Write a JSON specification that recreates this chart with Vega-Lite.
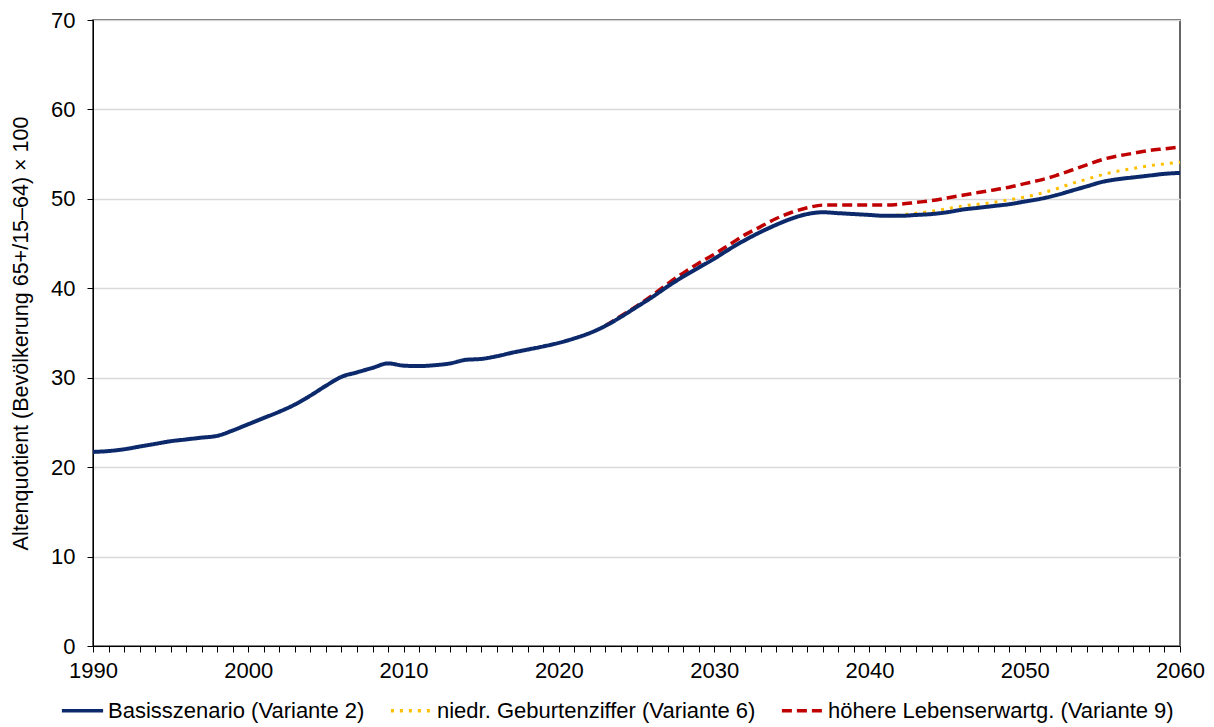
{
  "$schema": "https://vega.github.io/schema/vega-lite/v6.json",
  "width": 1087,
  "height": 626,
  "autosize": {"type": "none"},
  "padding": {"left": 93, "top": 20, "right": 34, "bottom": 81},
  "background": "white",
  "config": {
    "font": "Liberation Sans",
    "view": {"stroke": "#333333", "strokeWidth": 1.5},
    "axis": {"labelFont": "Liberation Sans", "titleFont": "Liberation Sans", "labelColor": "#000000", "titleColor": "#000000", "domainColor": "#000000", "tickColor": "#000000"}
  },
  "datasets": {
    "d": [
      {"year": 1990, "s": "Basisszenario (Variante 2)", "v": 21.7},
      {"year": 1991, "s": "Basisszenario (Variante 2)", "v": 21.8},
      {"year": 1992, "s": "Basisszenario (Variante 2)", "v": 22.0},
      {"year": 1993, "s": "Basisszenario (Variante 2)", "v": 22.3},
      {"year": 1994, "s": "Basisszenario (Variante 2)", "v": 22.6},
      {"year": 1995, "s": "Basisszenario (Variante 2)", "v": 22.9},
      {"year": 1996, "s": "Basisszenario (Variante 2)", "v": 23.1},
      {"year": 1997, "s": "Basisszenario (Variante 2)", "v": 23.3},
      {"year": 1998, "s": "Basisszenario (Variante 2)", "v": 23.5},
      {"year": 1999, "s": "Basisszenario (Variante 2)", "v": 24.1},
      {"year": 2000, "s": "Basisszenario (Variante 2)", "v": 24.8},
      {"year": 2001, "s": "Basisszenario (Variante 2)", "v": 25.5},
      {"year": 2002, "s": "Basisszenario (Variante 2)", "v": 26.2},
      {"year": 2003, "s": "Basisszenario (Variante 2)", "v": 27.0},
      {"year": 2004, "s": "Basisszenario (Variante 2)", "v": 28.0},
      {"year": 2005, "s": "Basisszenario (Variante 2)", "v": 29.1},
      {"year": 2006, "s": "Basisszenario (Variante 2)", "v": 30.1},
      {"year": 2007, "s": "Basisszenario (Variante 2)", "v": 30.6},
      {"year": 2008, "s": "Basisszenario (Variante 2)", "v": 31.1},
      {"year": 2009, "s": "Basisszenario (Variante 2)", "v": 31.6},
      {"year": 2010, "s": "Basisszenario (Variante 2)", "v": 31.35},
      {"year": 2011, "s": "Basisszenario (Variante 2)", "v": 31.3},
      {"year": 2012, "s": "Basisszenario (Variante 2)", "v": 31.4},
      {"year": 2013, "s": "Basisszenario (Variante 2)", "v": 31.6},
      {"year": 2014, "s": "Basisszenario (Variante 2)", "v": 32.0},
      {"year": 2015, "s": "Basisszenario (Variante 2)", "v": 32.1},
      {"year": 2016, "s": "Basisszenario (Variante 2)", "v": 32.4},
      {"year": 2017, "s": "Basisszenario (Variante 2)", "v": 32.8},
      {"year": 2018, "s": "Basisszenario (Variante 2)", "v": 33.15},
      {"year": 2019, "s": "Basisszenario (Variante 2)", "v": 33.5},
      {"year": 2020, "s": "Basisszenario (Variante 2)", "v": 33.9},
      {"year": 2021, "s": "Basisszenario (Variante 2)", "v": 34.4},
      {"year": 2022, "s": "Basisszenario (Variante 2)", "v": 35.0},
      {"year": 2023, "s": "Basisszenario (Variante 2)", "v": 35.8},
      {"year": 2024, "s": "Basisszenario (Variante 2)", "v": 36.8},
      {"year": 2025, "s": "Basisszenario (Variante 2)", "v": 37.9},
      {"year": 2026, "s": "Basisszenario (Variante 2)", "v": 39.0},
      {"year": 2027, "s": "Basisszenario (Variante 2)", "v": 40.2},
      {"year": 2028, "s": "Basisszenario (Variante 2)", "v": 41.3},
      {"year": 2029, "s": "Basisszenario (Variante 2)", "v": 42.3},
      {"year": 2030, "s": "Basisszenario (Variante 2)", "v": 43.3},
      {"year": 2031, "s": "Basisszenario (Variante 2)", "v": 44.4},
      {"year": 2032, "s": "Basisszenario (Variante 2)", "v": 45.4},
      {"year": 2033, "s": "Basisszenario (Variante 2)", "v": 46.3},
      {"year": 2034, "s": "Basisszenario (Variante 2)", "v": 47.1},
      {"year": 2035, "s": "Basisszenario (Variante 2)", "v": 47.8},
      {"year": 2036, "s": "Basisszenario (Variante 2)", "v": 48.3},
      {"year": 2037, "s": "Basisszenario (Variante 2)", "v": 48.5},
      {"year": 2038, "s": "Basisszenario (Variante 2)", "v": 48.4},
      {"year": 2039, "s": "Basisszenario (Variante 2)", "v": 48.3},
      {"year": 2040, "s": "Basisszenario (Variante 2)", "v": 48.2},
      {"year": 2041, "s": "Basisszenario (Variante 2)", "v": 48.1},
      {"year": 2042, "s": "Basisszenario (Variante 2)", "v": 48.1},
      {"year": 2043, "s": "Basisszenario (Variante 2)", "v": 48.2},
      {"year": 2044, "s": "Basisszenario (Variante 2)", "v": 48.3},
      {"year": 2045, "s": "Basisszenario (Variante 2)", "v": 48.5},
      {"year": 2046, "s": "Basisszenario (Variante 2)", "v": 48.8},
      {"year": 2047, "s": "Basisszenario (Variante 2)", "v": 49.0},
      {"year": 2048, "s": "Basisszenario (Variante 2)", "v": 49.2},
      {"year": 2049, "s": "Basisszenario (Variante 2)", "v": 49.4},
      {"year": 2050, "s": "Basisszenario (Variante 2)", "v": 49.7},
      {"year": 2051, "s": "Basisszenario (Variante 2)", "v": 50.0},
      {"year": 2052, "s": "Basisszenario (Variante 2)", "v": 50.4},
      {"year": 2053, "s": "Basisszenario (Variante 2)", "v": 50.9},
      {"year": 2054, "s": "Basisszenario (Variante 2)", "v": 51.4},
      {"year": 2055, "s": "Basisszenario (Variante 2)", "v": 51.9},
      {"year": 2056, "s": "Basisszenario (Variante 2)", "v": 52.2},
      {"year": 2057, "s": "Basisszenario (Variante 2)", "v": 52.4},
      {"year": 2058, "s": "Basisszenario (Variante 2)", "v": 52.6},
      {"year": 2059, "s": "Basisszenario (Variante 2)", "v": 52.8},
      {"year": 2060, "s": "Basisszenario (Variante 2)", "v": 52.9},

      {"year": 2040, "s": "niedr. Geburtenziffer (Variante 6)", "v": 48.2},
      {"year": 2041, "s": "niedr. Geburtenziffer (Variante 6)", "v": 48.1},
      {"year": 2042, "s": "niedr. Geburtenziffer (Variante 6)", "v": 48.2},
      {"year": 2043, "s": "niedr. Geburtenziffer (Variante 6)", "v": 48.4},
      {"year": 2044, "s": "niedr. Geburtenziffer (Variante 6)", "v": 48.6},
      {"year": 2045, "s": "niedr. Geburtenziffer (Variante 6)", "v": 48.9},
      {"year": 2046, "s": "niedr. Geburtenziffer (Variante 6)", "v": 49.2},
      {"year": 2047, "s": "niedr. Geburtenziffer (Variante 6)", "v": 49.4},
      {"year": 2048, "s": "niedr. Geburtenziffer (Variante 6)", "v": 49.6},
      {"year": 2049, "s": "niedr. Geburtenziffer (Variante 6)", "v": 49.9},
      {"year": 2050, "s": "niedr. Geburtenziffer (Variante 6)", "v": 50.2},
      {"year": 2051, "s": "niedr. Geburtenziffer (Variante 6)", "v": 50.6},
      {"year": 2052, "s": "niedr. Geburtenziffer (Variante 6)", "v": 51.1},
      {"year": 2053, "s": "niedr. Geburtenziffer (Variante 6)", "v": 51.7},
      {"year": 2054, "s": "niedr. Geburtenziffer (Variante 6)", "v": 52.2},
      {"year": 2055, "s": "niedr. Geburtenziffer (Variante 6)", "v": 52.7},
      {"year": 2056, "s": "niedr. Geburtenziffer (Variante 6)", "v": 53.1},
      {"year": 2057, "s": "niedr. Geburtenziffer (Variante 6)", "v": 53.4},
      {"year": 2058, "s": "niedr. Geburtenziffer (Variante 6)", "v": 53.7},
      {"year": 2059, "s": "niedr. Geburtenziffer (Variante 6)", "v": 53.9},
      {"year": 2060, "s": "niedr. Geburtenziffer (Variante 6)", "v": 54.1},

      {"year": 2023, "s": "höhere Lebenserwartg. (Variante 9)", "v": 35.8},
      {"year": 2024, "s": "höhere Lebenserwartg. (Variante 9)", "v": 36.9},
      {"year": 2025, "s": "höhere Lebenserwartg. (Variante 9)", "v": 38.0},
      {"year": 2026, "s": "höhere Lebenserwartg. (Variante 9)", "v": 39.2},
      {"year": 2027, "s": "höhere Lebenserwartg. (Variante 9)", "v": 40.5},
      {"year": 2028, "s": "höhere Lebenserwartg. (Variante 9)", "v": 41.7},
      {"year": 2029, "s": "höhere Lebenserwartg. (Variante 9)", "v": 42.8},
      {"year": 2030, "s": "höhere Lebenserwartg. (Variante 9)", "v": 43.8},
      {"year": 2031, "s": "höhere Lebenserwartg. (Variante 9)", "v": 44.9},
      {"year": 2032, "s": "höhere Lebenserwartg. (Variante 9)", "v": 46.0},
      {"year": 2033, "s": "höhere Lebenserwartg. (Variante 9)", "v": 46.9},
      {"year": 2034, "s": "höhere Lebenserwartg. (Variante 9)", "v": 47.8},
      {"year": 2035, "s": "höhere Lebenserwartg. (Variante 9)", "v": 48.5},
      {"year": 2036, "s": "höhere Lebenserwartg. (Variante 9)", "v": 49.0},
      {"year": 2037, "s": "höhere Lebenserwartg. (Variante 9)", "v": 49.3},
      {"year": 2038, "s": "höhere Lebenserwartg. (Variante 9)", "v": 49.3},
      {"year": 2039, "s": "höhere Lebenserwartg. (Variante 9)", "v": 49.3},
      {"year": 2040, "s": "höhere Lebenserwartg. (Variante 9)", "v": 49.3},
      {"year": 2041, "s": "höhere Lebenserwartg. (Variante 9)", "v": 49.3},
      {"year": 2042, "s": "höhere Lebenserwartg. (Variante 9)", "v": 49.4},
      {"year": 2043, "s": "höhere Lebenserwartg. (Variante 9)", "v": 49.6},
      {"year": 2044, "s": "höhere Lebenserwartg. (Variante 9)", "v": 49.8},
      {"year": 2045, "s": "höhere Lebenserwartg. (Variante 9)", "v": 50.1},
      {"year": 2046, "s": "höhere Lebenserwartg. (Variante 9)", "v": 50.4},
      {"year": 2047, "s": "höhere Lebenserwartg. (Variante 9)", "v": 50.7},
      {"year": 2048, "s": "höhere Lebenserwartg. (Variante 9)", "v": 51.0},
      {"year": 2049, "s": "höhere Lebenserwartg. (Variante 9)", "v": 51.3},
      {"year": 2050, "s": "höhere Lebenserwartg. (Variante 9)", "v": 51.7},
      {"year": 2051, "s": "höhere Lebenserwartg. (Variante 9)", "v": 52.1},
      {"year": 2052, "s": "höhere Lebenserwartg. (Variante 9)", "v": 52.6},
      {"year": 2053, "s": "höhere Lebenserwartg. (Variante 9)", "v": 53.2},
      {"year": 2054, "s": "höhere Lebenserwartg. (Variante 9)", "v": 53.8},
      {"year": 2055, "s": "höhere Lebenserwartg. (Variante 9)", "v": 54.4},
      {"year": 2056, "s": "höhere Lebenserwartg. (Variante 9)", "v": 54.8},
      {"year": 2057, "s": "höhere Lebenserwartg. (Variante 9)", "v": 55.1},
      {"year": 2058, "s": "höhere Lebenserwartg. (Variante 9)", "v": 55.4},
      {"year": 2059, "s": "höhere Lebenserwartg. (Variante 9)", "v": 55.6},
      {"year": 2060, "s": "höhere Lebenserwartg. (Variante 9)", "v": 55.8}
    ]
  },
  "data": {"name": "d"},
  "encoding": {
    "x": {
      "field": "year", "type": "quantitative",
      "scale": {"domain": [1990, 2060], "nice": false, "zero": false},
      "axis": {
        "title": null, "grid": false,
        "values": [1990,1991,1992,1993,1994,1995,1996,1997,1998,1999,2000,2001,2002,2003,2004,2005,2006,2007,2008,2009,2010,2011,2012,2013,2014,2015,2016,2017,2018,2019,2020,2021,2022,2023,2024,2025,2026,2027,2028,2029,2030,2031,2032,2033,2034,2035,2036,2037,2038,2039,2040,2041,2042,2043,2044,2045,2046,2047,2048,2049,2050,2051,2052,2053,2054,2055,2056,2057,2058,2059,2060],
        "labelExpr": "datum.value % 10 === 0 ? datum.value : ''",
        "labelFontSize": 22, "labelPadding": 8, "tickSize": 6, "labelFlush": false, "labelOverlap": false,
        "domainWidth": 1, "tickWidth": 1
      }
    },
    "y": {
      "field": "v", "type": "quantitative",
      "scale": {"domain": [0, 70], "nice": false},
      "axis": {
        "title": "Altenquotient (Bevölkerung 65+/15–64) × 100",
        "values": [0, 10, 20, 30, 40, 50, 60, 70],
        "labelFontSize": 22, "labelPadding": 12, "tickSize": 6,
        "titleFontSize": 21.5, "titleFontWeight": "normal", "titlePadding": 18,
        "grid": true, "gridColor": "#d9d9d9", "gridWidth": 1.5,
        "domainWidth": 1, "tickWidth": 1
      }
    },
    "color": {
      "field": "s", "type": "nominal",
      "scale": {
        "domain": ["Basisszenario (Variante 2)", "niedr. Geburtenziffer (Variante 6)", "höhere Lebenserwartg. (Variante 9)"],
        "range": ["#0c2a6b", "#ffc000", "#c00000"]
      },
      "legend": {
        "title": null, "orient": "none", "direction": "horizontal",
        "legendX": -33, "legendY": 668,
        "symbolType": "stroke", "symbolSize": 1700, "symbolStrokeWidth": 3.5,
        "labelFontSize": 22, "labelFont": "Liberation Sans", "labelColor": "#000000",
        "labelOffset": 3, "columnPadding": 18, "labelLimit": 500
      }
    },
    "strokeDash": {
      "field": "s", "type": "nominal",
      "scale": {
        "domain": ["Basisszenario (Variante 2)", "niedr. Geburtenziffer (Variante 6)", "höhere Lebenserwartg. (Variante 9)"],
        "range": [[1, 0], [3, 6], [10, 5]]
      },
      "legend": null
    }
  },
  "layer": [
    {"transform": [{"filter": "datum.s === 'höhere Lebenserwartg. (Variante 9)'"}], "mark": {"type": "line", "strokeWidth": 3.5, "interpolate": "monotone"}},
    {"transform": [{"filter": "datum.s === 'niedr. Geburtenziffer (Variante 6)'"}], "mark": {"type": "line", "strokeWidth": 3, "interpolate": "monotone"}},
    {"transform": [{"filter": "datum.s === 'Basisszenario (Variante 2)'"}], "mark": {"type": "line", "strokeWidth": 4, "interpolate": "monotone"}}
  ]
}
